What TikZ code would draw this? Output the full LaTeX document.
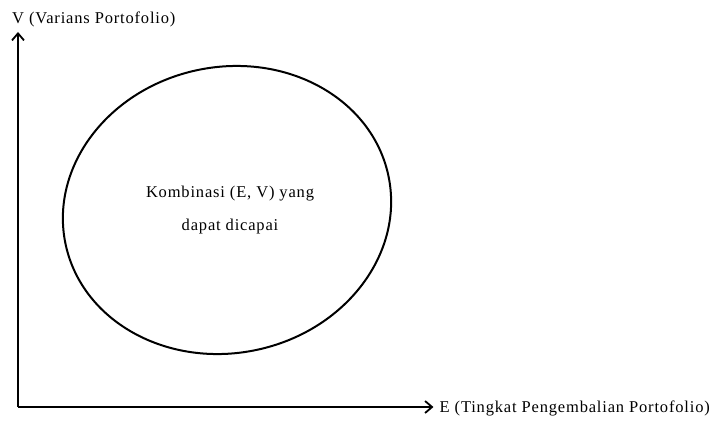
\documentclass[tikz,border=0pt]{standalone}
\usepackage{fontspec}
\setmainfont{Liberation Serif}[LetterSpace=5]
\usetikzlibrary{arrows.meta,shapes.geometric}
\tikzset{
  axisline/.style={line width=1.8pt,-{Straight Barb[length=7pt,width=12pt,line width=1.8pt]}},
  lbl/.style={inner sep=0pt,font=\fontsize{16.5}{33}\selectfont},
  region/.style={draw,ellipse,line width=2pt,inner sep=0pt,minimum width=330,minimum height=286,rotate=12}
}
\begin{document}
\begin{tikzpicture}[x=1pt,y=-1pt]
\useasboundingbox (0,0) rectangle (714,420);
\fill[white] (0,0) rectangle (714,420);
\coordinate (o) at (18,407);
\coordinate (vtip) at (18,32);
\node[lbl,anchor=base west] (vlab) at (12,24) {V (Varians Portofolio)};
\node[lbl,anchor=base east] (elab) at (710,412) {E (Tingkat Pengembalian Portofolio)};
\coordinate (etip) at ([xshift=-6pt]elab.west |- o);
\draw[axisline] (o) -- (vtip);
\draw[axisline] (o) -- (etip);
\node[region] (feas) at (227,210) {};
\node[lbl,anchor=base] (ftxta) at (230,197) {Kombinasi (E, V) yang};
\node[lbl,anchor=base] (ftxtb) at (230,230) {dapat dicapai};
\end{tikzpicture}
\end{document}
